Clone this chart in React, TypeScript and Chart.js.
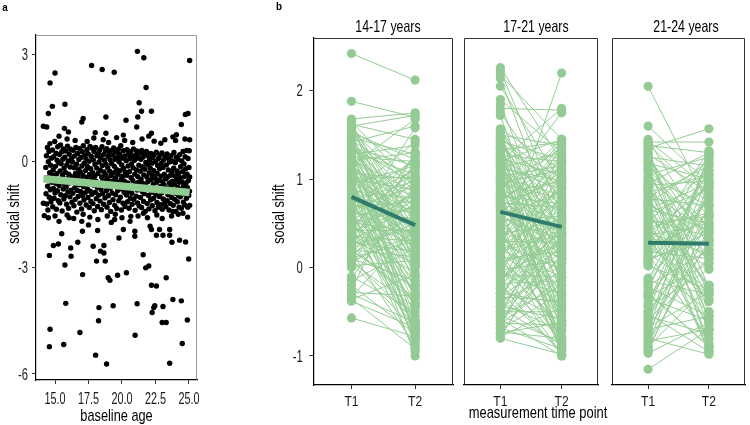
import React, { useEffect, useRef } from "react";
import { Chart, registerables } from "chart.js";

Chart.register(...registerables);

const FONT = "'Liberation Sans', Arimo, Arial, sans-serif";

// ---------- Panel a: baseline age vs social shift ----------
const scatterPoints: [number, number][] = [
  // upper outliers
  [14.63, 2.2], [15.0, 2.48], [14.8, 1.54], [14.5, 1.34], [15.74, 1.6], [17.73, 2.69], [18.52, 2.58], [19.42, 2.5],
  [21.15, 3.09], [21.63, 2.91], [25.05, 2.83], [21.8, 2.07], [21.28, 1.64], [21.18, 1.24], [21.46, 1.4], [22.2, 1.4],
  [21.1, 0.96], [20.3, 1.15], [17.1, 1.2], [17.0, 1.1], [18.8, 1.24], [24.73, 1.31], [24.93, 1.34], [24.43, 1.03],
  [24.06, 0.74], [23.8, 0.68], [22.2, 0.78], [18.0, 0.8], [18.8, 0.78], [20.1, 0.73], [14.13, 0.98], [14.38, 0.96],
  [15.7, 0.92], [16.0, 0.82],
  [15.3, 0.7], [15.9, 0.62], [16.5, 0.58], [17.4, 0.55], [17.9, 0.65], [18.6, 0.6], [19.0, 0.52], [19.6, 0.66],
  [20.2, 0.58], [20.8, 0.52], [21.5, 0.62], [22.0, 0.7], [22.4, 0.56], [22.9, 0.5], [23.2, 0.6], [24.0, 0.58],
  [24.7, 0.62], [25.05, 0.6],
  // lower outliers
  [14.58, -2.66], [14.88, -2.38], [15.25, -2.34], [15.5, -2.05], [15.74, -2.93], [16.17, -2.45], [16.2, -2.68],
  [16.7, -2.29], [17.06, -3.2], [17.05, -1.98], [17.85, -2.4], [18.1, -2.82], [18.4, -2.54], [18.65, -2.38],
  [18.18, -1.96], [18.65, -2.59], [18.75, -2.82], [18.97, -3.29], [19.1, -3.36], [19.67, -3.22], [20.33, -3.15],
  [19.77, -2.17], [20.96, -2.12], [20.96, -1.98], [21.58, -2.64], [21.77, -3.01], [22.0, -2.96], [22.2, -3.5],
  [22.57, -2.09], [23.06, -2.09], [23.56, -2.09], [23.73, -2.29], [24.3, -2.23], [24.75, -2.28], [24.98, -2.76],
  [23.3, -3.29], [15.8, -4.01], [18.28, -4.13], [18.25, -4.5], [19.34, -4.08], [21.13, -4.02], [22.37, -4.13],
  [22.25, -4.27], [22.45, -4.08], [23.06, -4.1], [23.0, -4.55], [23.3, -4.55], [23.8, -3.9], [24.43, -3.94],
  [24.88, -4.48], [24.5, -5.14], [20.98, -4.91], [16.86, -4.83], [14.63, -4.74], [14.58, -5.23], [15.65, -5.17],
  [18.03, -5.47], [18.85, -5.72], [23.56, -5.7], [22.57, -3.52],
  [14.2, -1.54], [14.13, -1.19], [15.3, -1.7], [16.05, -1.6], [17.0, -1.7], [17.5, -1.8], [19.2, -1.73],
  [19.45, -1.65], [20.1, -1.93], [20.66, -1.56], [22.1, -1.84], [22.2, -1.93], [22.8, -1.93], [23.56, -1.93],
  [25.05, -1.25], [23.8, -1.42], [24.55, -1.47], [21.6, -1.47],
  [14.5, -1.6], [15.0, -1.55], [15.9, -1.52], [16.4, -1.62], [17.1, -1.5], [17.6, -1.58], [18.2, -1.65],
  [18.9, -1.55], [19.5, -1.5], [20.0, -1.6], [20.6, -1.7], [21.2, -1.55], [21.9, -1.6], [22.6, -1.52],
  [23.0, -1.62], [23.7, -1.55], [24.2, -1.5], [24.9, -1.58],
  // dense core
  [14.31, -0.18], [14.33, -0.92], [14.36, 0.15], [14.38, -1.21], [14.4, -0.47], [14.43, 0.38], [14.45, -0.71], [14.47, -1.38],
  [14.5, -0.02], [14.52, -0.55], [14.55, 0.27], [14.57, -1.02], [14.6, -0.33], [14.62, 0.49], [14.65, -0.81], [14.67, -0.12],
  [14.7, -1.15], [14.72, 0.08], [14.75, -0.6], [14.78, -0.39],
  [14.81, 0.31], [14.83, -1.29], [14.86, -0.25], [14.88, -0.77], [14.9, 0.12], [14.93, -1.05], [14.95, -0.44], [14.98, 0.55],
  [15.0, -0.9], [15.03, -0.15], [15.05, -0.63], [15.08, 0.22], [15.1, -1.36], [15.13, -0.36], [15.15, 0.02], [15.18, -0.84],
  [15.2, 0.4], [15.23, -0.52], [15.25, -1.12], [15.28, -0.05],
  [15.31, -0.69], [15.33, 0.18], [15.36, -1.18], [15.38, -0.28], [15.41, 0.45], [15.43, -0.95], [15.46, -0.08], [15.48, -0.58],
  [15.51, 0.26], [15.53, -1.41], [15.56, -0.41], [15.58, 0.05], [15.61, -0.79], [15.63, 0.34], [15.66, -1.07], [15.68, -0.2],
  [15.71, -0.65], [15.73, 0.11], [15.76, -0.98], [15.78, -0.32],
  [15.81, 0.28], [15.83, -0.73], [15.86, -1.22], [15.88, -0.11], [15.91, -0.5], [15.93, 0.42], [15.96, -0.87], [15.98, 0.0],
  [16.01, -1.33], [16.03, -0.37], [16.06, 0.19], [16.08, -0.62], [16.11, -1.01], [16.13, -0.17], [16.16, 0.33], [16.18, -0.82],
  [16.21, -0.44], [16.23, 0.07], [16.26, -1.16], [16.28, -0.56],
  [16.31, -0.03], [16.33, -0.91], [16.36, 0.3], [16.38, -0.48], [16.41, -1.26], [16.43, -0.19], [16.46, 0.14], [16.48, -0.75],
  [16.51, -1.08], [16.53, -0.35], [16.56, 0.38], [16.58, -0.6], [16.61, -0.09], [16.63, -1.44], [16.66, -0.83], [16.68, 0.21],
  [16.71, -0.42], [16.73, -1.0], [16.76, -0.24], [16.78, 0.04],
  [16.81, -0.67], [16.83, 0.35], [16.86, -1.19], [16.88, -0.3], [16.91, -0.86], [16.93, 0.1], [16.96, -0.53], [16.98, -1.35],
  [17.01, -0.14], [17.03, 0.26], [17.06, -0.97], [17.08, -0.4], [17.11, 0.43], [17.13, -0.72], [17.16, -1.1], [17.18, -0.06],
  [17.21, -0.58], [17.23, 0.17], [17.26, -0.89], [17.28, -0.27],
  [17.31, 0.06], [17.33, -1.24], [17.36, -0.46], [17.38, 0.32], [17.41, -0.78], [17.43, -0.16], [17.46, -1.03], [17.48, 0.2],
  [17.51, -0.61], [17.53, -0.01], [17.56, -1.31], [17.58, -0.38], [17.61, 0.41], [17.63, -0.85], [17.66, -0.22], [17.68, -1.14],
  [17.71, 0.13], [17.73, -0.5], [17.76, -0.94], [17.78, 0.36],
  [17.81, -0.33], [17.83, -1.2], [17.86, 0.03], [17.88, -0.68], [17.91, 0.27], [17.93, -1.4], [17.96, -0.43], [17.98, -0.1],
  [18.01, -0.88], [18.03, 0.38], [18.06, -0.57], [18.08, -1.06], [18.11, -0.2], [18.13, 0.15], [18.16, -0.74], [18.18, -1.28],
  [18.21, -0.35], [18.23, 0.22], [18.26, -0.96], [18.28, -0.03],
  [18.31, -0.64], [18.33, 0.31], [18.36, -1.13], [18.38, -0.26], [18.41, 0.09], [18.43, -0.8], [18.46, -1.37], [18.48, -0.45],
  [18.51, 0.4], [18.53, -0.13], [18.56, -0.92], [18.58, -0.55], [18.61, 0.18], [18.63, -1.22], [18.66, -0.31], [18.68, 0.02],
  [18.71, -0.7], [18.73, -1.04], [18.76, 0.28], [18.78, -0.4],
  [18.81, -0.09], [18.83, -0.84], [18.86, 0.35], [18.88, -1.3], [18.91, -0.5], [18.93, -0.18], [18.96, 0.13], [18.98, -0.98],
  [19.01, -0.62], [19.03, 0.24], [19.06, -1.17], [19.08, -0.29], [19.11, 0.04], [19.13, -0.77], [19.16, -1.42], [19.18, -0.41],
  [19.21, 0.3], [19.23, -0.07], [19.26, -0.9], [19.28, -0.56],
  [19.31, 0.17], [19.33, -1.09], [19.36, -0.34], [19.38, 0.37], [19.41, -0.71], [19.43, -0.15], [19.46, -1.25], [19.48, 0.05],
  [19.51, -0.48], [19.53, -0.95], [19.56, 0.25], [19.58, -0.24], [19.61, -1.34], [19.63, -0.6], [19.66, 0.1], [19.68, -0.83],
  [19.71, -0.38], [19.73, 0.33], [19.76, -1.12], [19.78, -0.02],
  [19.81, -0.66], [19.83, 0.2], [19.86, -0.27], [19.88, -1.02], [19.91, 0.43], [19.93, -0.52], [19.96, -1.38], [19.98, -0.11],
  [20.01, -0.79], [20.03, 0.08], [20.06, -0.43], [20.08, -1.19], [20.11, 0.29], [20.13, -0.21], [20.16, -0.88], [20.18, -0.57],
  [20.21, 0.14], [20.23, -1.28], [20.26, -0.32], [20.28, -0.73],
  [20.31, 0.01], [20.33, -0.96], [20.36, -0.4], [20.38, 0.32], [20.41, -1.15], [20.43, -0.62], [20.46, -0.14], [20.48, 0.19],
  [20.51, -0.85], [20.53, -1.33], [20.56, -0.3], [20.58, 0.06], [20.61, -0.7], [20.63, -1.05], [20.66, 0.26], [20.68, -0.47],
  [20.71, -0.08], [20.73, -0.91], [20.76, -1.22], [20.78, 0.12],
  [20.81, -0.55], [20.83, -0.19], [20.86, 0.34], [20.88, -1.08], [20.91, -0.76], [20.93, 0.02], [20.96, -0.37], [20.98, -1.39],
  [21.01, 0.16], [21.03, -0.64], [21.06, -0.99], [21.08, -0.25], [21.11, 0.28], [21.13, -0.82], [21.16, -1.18], [21.18, -0.44],
  [21.21, 0.08], [21.23, -0.6], [21.26, -0.12], [21.28, -1.27],
  [21.31, 0.22], [21.33, -0.7], [21.36, -0.29], [21.38, -1.03], [21.41, 0.05], [21.43, -0.51], [21.46, -1.31], [21.48, 0.3],
  [21.51, -0.86], [21.53, -0.16], [21.56, -0.63], [21.58, 0.11], [21.61, -1.14], [21.63, -0.39], [21.66, -0.92], [21.68, 0.19],
  [21.71, -0.23], [21.73, -1.42], [21.76, -0.68], [21.78, -0.04],
  [21.81, -0.8], [21.83, 0.27], [21.86, -0.45], [21.88, -1.2], [21.91, -0.1], [21.93, -0.58], [21.96, 0.14], [21.98, -0.97],
  [22.01, -1.35], [22.03, -0.33], [22.06, 0.04], [22.08, -0.75], [22.11, -0.2], [22.13, -1.1], [22.16, 0.21], [22.18, -0.53],
  [22.21, -0.88], [22.23, -0.06], [22.26, -1.26], [22.28, -0.41],
  [22.31, 0.09], [22.33, -0.66], [22.36, -1.05], [22.38, -0.27], [22.41, 0.18], [22.43, -0.83], [22.46, -1.4], [22.48, -0.48],
  [22.51, -0.02], [22.53, -0.94], [22.56, 0.25], [22.58, -0.6], [22.61, -1.17], [22.63, -0.35], [22.66, -0.13], [22.68, -0.78],
  [22.71, -1.3], [22.73, 0.07], [22.76, -0.55], [22.78, -1.0],
  [22.81, -0.22], [22.83, 0.16], [22.86, -0.72], [22.88, -1.23], [22.91, -0.43], [22.93, -0.07], [22.96, -0.9], [22.98, 0.23],
  [23.01, -1.36], [23.03, -0.58], [23.06, -0.18], [23.08, -1.07], [23.11, 0.03], [23.13, -0.67], [23.16, -0.37], [23.18, -1.19],
  [23.21, 0.13], [23.23, -0.84], [23.26, -0.5], [23.28, -1.29],
  [23.31, -0.11], [23.33, -0.76], [23.36, 0.2], [23.38, -1.12], [23.41, -0.45], [23.43, -0.95], [23.46, -0.25], [23.48, 0.06],
  [23.51, -1.38], [23.53, -0.62], [23.56, -0.03], [23.58, -0.87], [23.61, -1.2], [23.63, -0.4], [23.66, 0.15], [23.68, -0.7],
  [23.71, -1.03], [23.73, -0.3], [23.76, -0.57], [23.78, 0.0],
  [23.81, -0.82], [23.83, -1.25], [23.86, -0.2], [23.88, 0.24], [23.91, -0.65], [23.93, -1.08], [23.96, -0.42], [23.98, -0.05],
  [24.01, -0.91], [24.03, -1.42], [24.06, 0.11], [24.08, -0.52], [24.11, -0.28], [24.13, -1.15], [24.16, -0.74], [24.18, 0.05],
  [24.21, -0.35], [24.23, -0.98], [24.26, -1.3], [24.28, -0.6],
  [24.31, 0.18], [24.33, -0.47], [24.36, -1.01], [24.38, -0.16], [24.41, -0.79], [24.43, -1.33], [24.46, 0.0], [24.48, -0.58],
  [24.51, -0.93], [24.53, -0.3], [24.56, 0.27], [24.58, -1.16], [24.61, -0.69], [24.63, -0.08], [24.66, -0.44], [24.68, -1.24],
  [24.71, 0.12], [24.73, -0.85], [24.76, -0.22], [24.78, -0.62],
  [24.81, -1.05], [24.83, 0.3], [24.86, -0.37], [24.88, -0.75], [24.91, -1.3], [24.93, 0.07], [24.96, -0.55], [24.98, -0.97],
  [25.0, -0.18], [25.02, 0.29], [25.04, -0.85], [25.05, -0.45],
];

const regressionAge = [14.13, 25.05];
const regressionShift = [-0.5, -0.89];
const ageTicks = [15, 17.5, 20, 22.5, 25];
const ageTickLabels = ["15.0", "17.5", "20.0", "22.5", "25.0"];
const shiftTicksA = [-6, -3, 0, 3];

// ---------- Panel b: T1 -> T2 per age group ----------
const facetLabels = ["14-17 years", "17-21 years", "21-24 years"];
const timeLabels = ["T1", "T2"];
const shiftTicksB = [-1, 0, 1, 2];

const pairs14to17: [number, number][] = [
  [2.42, 2.12], [1.88, 1.7], [1.68, 1.75], [1.65, 0.9], [1.62, 1.45], [1.58, 0.35], [1.55, 1.12], [1.52, -0.2],
  [1.5, 0.75], [1.47, 1.28], [1.45, 0.52], [1.42, 1.6], [1.4, 0.1], [1.37, 0.95], [1.35, -0.65], [1.32, 1.05],
  [1.3, 0.62], [1.27, 0.28], [1.25, 1.2], [1.22, 0.85], [1.2, -0.35], [1.17, 0.45], [1.15, 1.68], [1.12, 0.7],
  [1.1, 0.05], [1.07, 1.0], [1.05, 0.4], [1.02, -0.72], [1.0, 0.88], [0.97, 0.58], [0.95, 1.15], [0.92, 0.2],
  [0.9, -0.1], [0.87, 0.78], [0.85, 1.42], [0.82, 0.32], [0.8, 0.65], [0.77, -0.45], [0.75, 1.1], [0.72, 0.48],
  [0.7, 0.0], [0.67, 0.92], [0.65, -0.8], [0.62, 0.55], [0.6, 1.25], [0.57, 0.25], [0.55, 0.82], [0.52, -0.28],
  [0.5, 0.68], [0.47, 1.58], [0.45, 0.15], [0.42, 0.42], [0.4, -0.6], [0.37, 0.98], [0.35, 0.3], [0.32, -0.05],
  [0.3, 0.72], [0.27, 1.18], [0.25, -0.4], [0.22, 0.5], [0.2, 0.12], [0.17, -0.88], [0.15, 0.6], [0.12, 0.9],
  [0.1, -0.15], [0.07, 0.38], [0.05, -0.7], [0.02, 0.08], [0.0, 1.3], [-0.1, -0.5], [-0.15, 0.22], [-0.2, -0.75],
  [-0.28, -0.32], [-0.33, 0.45], [-0.35, -0.92], [-0.36, -0.08], [-0.38, -0.68], [-0.57, -0.78], [1.6, 1.72], [1.28, 1.38],
  [0.9, -1.0], [0.58, -0.95], [1.48, 0.2], [1.38, 0.68], [1.18, 0.18], [1.03, 0.6], [0.88, 0.02], [0.78, 0.35],
  [0.68, 0.75], [0.48, 1.02], [0.38, 0.85], [0.28, 0.18], [0.18, -0.22], [1.12, -0.55], [0.95, -0.85], [1.33, -0.78],
  [0.62, -0.68], [1.58, 0.58], [1.44, 0.98], [0.5, -0.4],
  [1.63, 0.42], [1.56, 0.85], [1.53, 1.22], [1.46, -0.1], [1.41, 0.3], [1.36, 1.15], [1.31, 0.02], [1.26, 0.55],
  [1.21, 1.3], [1.16, -0.25], [1.11, 0.8], [1.06, 0.25], [1.01, 1.02], [0.96, -0.3], [0.91, 0.5], [0.86, 0.12],
  [0.81, 1.2], [0.76, -0.62], [0.71, 0.62], [0.66, 0.28], [0.61, -0.15], [0.56, 1.08], [0.51, 0.4], [0.46, -0.72],
  [0.41, 0.7], [0.36, 0.05], [0.31, 1.28], [0.26, 0.45], [0.21, -0.35], [0.16, 0.92], [0.11, 0.3], [0.06, -0.45],
  [0.03, 0.65], [-0.12, 0.88], [-0.25, 1.2], [-0.3, -0.62], [1.5, -0.82], [1.2, -0.9], [0.98, -0.7], [0.75, 0.98],
  [0.55, -0.2], [0.33, 0.58], [1.42, 0.15], [1.07, -0.42], [0.84, -0.32], [0.44, 1.15], [0.24, 0.78], [0.09, -0.6],
  [1.6, 0.05], [1.24, 0.1],
];

const pairs17to21: [number, number][] = [
  [2.26, 1.2], [2.22, 0.6], [2.18, 1.45], [2.14, 0.3], [2.05, 0.95], [1.9, 1.3], [1.85, 0.1], [1.8, 1.78],
  [1.75, 0.75], [1.72, -0.2], [0.2, 2.2], [0.85, 1.75], [1.2, 1.8],
  [1.57, 1.1], [1.55, 0.42], [1.53, -0.3], [1.5, 1.38], [1.48, 0.8], [1.45, 0.05], [1.43, 1.22], [1.4, 0.55],
  [1.38, -0.65], [1.35, 0.95], [1.33, 1.42], [1.3, 0.2], [1.28, 0.7], [1.25, -0.12], [1.23, 1.05], [1.2, 0.35],
  [1.18, -0.85], [1.15, 0.88], [1.13, 1.3], [1.1, 0.48], [1.08, -0.4], [1.05, 0.62], [1.03, 1.15], [1.0, 0.1],
  [0.98, -0.95], [0.95, 0.78], [0.93, 0.3], [0.9, 1.35], [0.88, -0.2], [0.85, 0.5], [0.83, 0.98], [0.8, -0.6],
  [0.78, 0.25], [0.75, 1.25], [0.73, 0.68], [0.7, -0.05], [0.68, 0.4], [0.65, -0.78], [0.63, 1.08], [0.6, 0.15],
  [0.58, 0.85], [0.55, -0.35], [0.53, 0.58], [0.5, 1.4], [0.48, 0.0], [0.45, 0.72], [0.43, -0.9], [0.4, 0.45],
  [0.38, 1.18], [0.35, -0.25], [0.33, 0.9], [0.3, 0.28], [0.28, -0.55], [0.25, 0.65], [0.23, 1.02], [0.2, -0.1],
  [0.18, 0.38], [0.15, -0.7], [0.13, 0.8], [0.1, 0.18], [0.08, 1.28], [0.05, -0.42], [0.03, 0.52], [0.0, -0.98],
  [-0.03, 0.08], [-0.05, 0.92], [-0.08, -0.3], [-0.1, 0.3], [-0.13, -0.82], [-0.15, 0.6], [-0.18, -0.15], [-0.2, 1.12],
  [-0.23, -0.6], [-0.25, 0.22], [-0.28, -0.95], [-0.3, 0.45], [-0.33, -0.38], [-0.35, 0.75], [-0.38, -0.05], [-0.4, -0.72],
  [-0.43, 0.35], [-0.45, -0.88], [-0.48, 0.12], [-0.5, -0.5], [-0.53, 0.68], [-0.55, -0.2], [-0.58, -1.0], [-0.6, 0.05],
  [-0.63, -0.65], [-0.65, 0.5], [-0.68, -0.92], [-0.7, -0.28], [-0.73, -0.8], [-0.75, 0.15], [-0.78, -0.45], [-0.8, -0.98],
  [1.46, 1.0], [1.2, 1.45], [0.92, -0.48], [0.7, 1.42], [0.42, -0.62], [0.12, -0.85], [1.36, -0.92], [1.02, 0.82],
  [0.6, 1.32], [0.28, -0.02],
  [1.56, 0.6], [1.51, -0.6], [1.47, 0.25], [1.41, 0.9], [1.37, -0.15], [1.32, 0.45], [1.27, 1.2], [1.22, -0.45],
  [1.17, 0.15], [1.12, 0.98], [1.07, -0.7], [1.01, 0.4], [0.96, 1.1], [0.91, 0.05], [0.86, -0.88], [0.81, 0.72],
  [0.76, -0.3], [0.71, 1.0], [0.66, 0.2], [0.61, -0.52], [0.56, 0.32], [0.51, -0.95], [0.46, 1.25], [0.41, 0.1],
  [0.36, 0.55], [0.31, -0.8], [0.26, 1.38], [0.21, 0.42], [0.16, -0.32], [0.11, 0.95], [0.06, 0.25], [0.01, -0.65],
  [-0.04, 1.2], [-0.09, -0.1], [-0.14, 0.4], [-0.19, -0.98], [-0.24, 0.82], [-0.29, -0.4], [-0.34, 0.18], [-0.39, 1.05],
  [-0.44, -0.58], [-0.49, 0.55], [-0.54, -0.85], [-0.59, 0.28], [-0.64, -0.12], [-0.69, 0.88], [-0.74, -0.62], [-0.79, 0.38],
  [1.25, -1.0], [0.8, 1.45],
];

const pairs21to24: [number, number][] = [
  [2.05, 0.7], [1.6, 0.95], [1.35, 1.57], [1.42, 1.42], [1.45, 0.3], [1.38, 1.3], [1.32, -0.7], [1.28, 0.85],
  [1.25, 1.15], [1.2, 0.05], [1.15, 0.6], [1.1, -0.3], [1.05, 1.25], [1.0, 0.45], [0.97, -0.85], [0.93, 0.98],
  [0.9, 0.2], [0.85, 1.05], [0.82, -0.55], [0.78, 0.7], [0.75, 0.15], [0.72, 1.2], [0.68, -0.2], [0.65, 0.5],
  [0.62, 0.88], [0.58, -0.95], [0.55, 0.35], [0.52, 1.1], [0.48, -0.38], [0.45, 0.62], [0.42, 0.0], [0.38, 0.92],
  [0.35, -0.65], [0.32, 0.28], [0.28, 1.32], [0.25, -0.25], [0.22, 0.55], [0.18, 0.1], [0.15, -0.8], [0.12, 0.78],
  [0.08, 0.4], [0.05, -0.5], [0.02, 1.0], [-0.12, 0.65], [-0.15, -0.3], [-0.2, 0.2], [-0.25, 1.18], [-0.28, -0.9],
  [-0.32, 0.48], [-0.35, -0.6], [-0.4, 0.82], [-0.45, -0.02], [-0.5, 0.38], [-0.55, -0.75], [-0.6, 1.05], [-0.65, 0.12],
  [-0.7, -0.55], [-0.75, 0.7], [-0.8, -0.98], [-0.85, 0.3], [-0.9, -0.2], [-0.95, 0.58], [-0.97, -0.62], [-1.15, -0.7],
  [1.4, 0.72], [1.12, 0.32], [0.95, 1.3], [0.7, 0.42], [0.6, -0.2], [0.4, 0.15], [0.2, 0.95], [0.1, 1.28],
  [-0.18, 0.8], [-0.5, 1.22], [-0.62, 0.25], [-0.88, 0.9], [1.3, -0.22], [0.88, -0.35], [0.3, -0.38], [-0.3, -0.88],
  [-0.72, 1.3], [0.5, 0.58], [1.22, 0.45], [0.02, -0.25],
  [1.43, 0.9], [1.36, -0.6], [1.26, 0.25], [1.18, 1.0], [1.08, -0.9], [1.02, 0.7], [0.92, -0.25], [0.86, 0.4],
  [0.8, 1.15], [0.73, -0.7], [0.66, 0.95], [0.56, 0.1], [0.46, -0.88], [0.36, 0.5], [0.26, 1.05], [0.16, -0.3],
  [0.06, 0.75], [-0.13, 1.1], [-0.22, -0.55], [-0.33, 0.05], [-0.42, 1.25], [-0.52, -0.95], [-0.58, 0.6], [-0.68, -0.28],
  [-0.78, 0.95], [-0.83, -0.7], [-0.92, 0.45], [1.15, -0.5], [0.7, -0.95], [0.1, 0.3],
];

const facetPairs = [pairs14to17, pairs17to21, pairs21to24];
const meanT1 = [0.8, 0.63, 0.28];
const meanT2 = [0.48, 0.46, 0.27];

// ---------- helpers ----------
function drawText(ctx: any, text: string, x: number, y: number, o: { size: number; sx: number; align: string; rotate?: boolean; color?: string; bold?: boolean }) {
  ctx.save();
  ctx.translate(x, y);
  if (o.rotate) ctx.rotate(-Math.PI / 2);
  ctx.scale(o.sx, 1);
  ctx.font = `${o.bold ? "bold " : ""}${o.size}px ${FONT}`;
  ctx.fillStyle = o.color || "#1a1a1a";
  ctx.textAlign = o.align;
  ctx.textBaseline = "alphabetic";
  ctx.fillText(text, 0, 0);
  ctx.restore();
}

function framePlugin(sides: { top?: boolean; right?: boolean; left?: boolean; color: string }) {
  return {
    id: "frame",
    afterDraw(chart: any) {
      const { ctx, chartArea } = chart;
      const l = Math.round(chartArea.left) + 0.5;
      const r = Math.round(chartArea.right) - 0.5;
      const t = Math.round(chartArea.top) + 0.5;
      const b = Math.round(chartArea.bottom) - 0.5;
      ctx.save();
      ctx.strokeStyle = sides.color;
      ctx.lineWidth = 1;
      ctx.beginPath();
      if (sides.top) { ctx.moveTo(l, t); ctx.lineTo(r, t); }
      if (sides.right) { ctx.moveTo(r, t); ctx.lineTo(r, b); }
      if (sides.left) { ctx.moveTo(l, t); ctx.lineTo(l, b); }
      ctx.stroke();
      ctx.restore();
    },
  };
}

type AxisText = {
  xTicks?: { values: number[]; labels: string[]; baseline: number; size: number; sx: number };
  yTicks?: { values: number[]; labels: string[]; right: number; size: number; sx: number };
  xTitle?: { text: string; baseline: number; size: number; sx: number };
  yTitle?: { text: string; baselineX: number; centerY: number; size: number; sx: number };
};

function axisTextPlugin(cfg: AxisText) {
  return {
    id: "axisText",
    afterDraw(chart: any) {
      const { ctx, chartArea } = chart;
      const xs = chart.scales.x;
      const ys = chart.scales.y;
      if (cfg.xTicks) {
        const t = cfg.xTicks;
        t.values.forEach((v, i) => drawText(ctx, t.labels[i], xs.getPixelForValue(v), t.baseline, { size: t.size, sx: t.sx, align: "center" }));
      }
      if (cfg.yTicks) {
        const t = cfg.yTicks;
        t.values.forEach((v, i) =>
          drawText(ctx, t.labels[i], t.right, ys.getPixelForValue(v) + t.size * 0.36, { size: t.size, sx: t.sx, align: "right" })
        );
      }
      if (cfg.xTitle) {
        const t = cfg.xTitle;
        drawText(ctx, t.text, (chartArea.left + chartArea.right) / 2, t.baseline, { size: t.size, sx: t.sx, align: "center", color: "#000" });
      }
      if (cfg.yTitle) {
        const t = cfg.yTitle;
        drawText(ctx, t.text, t.baselineX, t.centerY, { size: t.size, sx: t.sx, align: "center", rotate: true, color: "#000" });
      }
    },
  };
}

const baseGrid = { drawOnChartArea: false, tickLength: 4, tickColor: "#333" };
const baseBorder = { color: "#000", width: 1.2 };

function buildScatterConfig(): any {
  return {
    type: "scatter",
    data: {
      datasets: [
        {
          data: regressionAge.map((a, i) => ({ x: a, y: regressionShift[i] })),
          showLine: true,
          borderColor: "#90cc90",
          borderWidth: 7.5,
          pointRadius: 0,
          order: 0,
        },
        {
          data: scatterPoints.map(([x, y]) => ({ x, y })),
          pointRadius: 2.7,
          backgroundColor: "#000",
          borderWidth: 0,
          order: 1,
        },
      ],
    },
    options: {
      responsive: false,
      animation: false,
      events: [],
      layout: { padding: { top: 35, right: 13, left: 0, bottom: 0 } },
      plugins: { legend: { display: false }, tooltip: { enabled: false } },
      scales: {
        x: {
          type: "linear",
          min: 13.58,
          max: 25.6,
          afterBuildTicks: (s: any) => { s.ticks = ageTicks.map((v) => ({ value: v })); },
          afterFit: (s: any) => { s.height = 45; },
          ticks: { display: false },
          grid: baseGrid,
          border: baseBorder,
        },
        y: {
          type: "linear",
          min: -6.17,
          max: 3.55,
          afterBuildTicks: (s: any) => { s.ticks = shiftTicksA.map((v) => ({ value: v })); },
          afterFit: (s: any) => { s.width = 36; },
          ticks: { display: false },
          grid: baseGrid,
          border: baseBorder,
        },
      },
    },
    plugins: [
      framePlugin({ top: true, right: true, color: "#9a9a9a" }),
      axisTextPlugin({
        xTicks: { values: ageTicks, labels: ageTickLabels, baseline: 403.5, size: 16, sx: 0.68 },
        yTicks: { values: shiftTicksA, labels: shiftTicksA.map(String), right: 28, size: 16, sx: 0.7 },
        xTitle: { text: "baseline age", baseline: 420.5, size: 17, sx: 0.75 },
        yTitle: { text: "social shift", baselineX: 18.8, centerY: 214, size: 17, sx: 0.75 },
      }),
    ],
  };
}

function buildFacetConfig(idx: number, withY: boolean, pad: { left: number; right: number }): any {
  const pairs = facetPairs[idx];
  const lineData: any[] = [];
  pairs.forEach(([a, b]) => {
    lineData.push({ x: 1, y: a }, { x: 2, y: b }, { x: 1.5, y: null });
  });
  const pointData: any[] = [];
  pairs.forEach(([a, b]) => {
    pointData.push({ x: 1, y: a }, { x: 2, y: b });
  });
  const text: AxisText = {
    xTicks: { values: [1, 2], labels: timeLabels, baseline: 405.5, size: 15.5, sx: 0.78 },
  };
  if (withY) {
    text.yTicks = { values: shiftTicksB, labels: shiftTicksB.map(String), right: 42.7, size: 16, sx: 0.7 };
    text.yTitle = { text: "social shift", baselineX: 23.6, centerY: 214, size: 17, sx: 0.75 };
  }
  return {
    type: "scatter",
    data: {
      datasets: [
        {
          data: [{ x: 1, y: meanT1[idx] }, { x: 2, y: meanT2[idx] }],
          showLine: true,
          borderColor: "#2f7b6c",
          borderWidth: 4,
          pointRadius: 0,
          order: 0,
        },
        {
          data: pointData,
          pointRadius: 4.6,
          backgroundColor: "rgb(148,202,148)",
          borderWidth: 0,
          order: 1,
        },
        {
          data: lineData,
          showLine: true,
          spanGaps: false,
          borderColor: "rgb(148,204,148)",
          borderWidth: 1,
          pointRadius: 0,
          order: 2,
        },
      ],
    },
    options: {
      responsive: false,
      animation: false,
      events: [],
      layout: { padding: { top: 38, right: pad.right, left: pad.left, bottom: 0 } },
      plugins: { legend: { display: false }, tooltip: { enabled: false } },
      scales: {
        x: {
          type: "linear",
          min: 0.4,
          max: 2.6,
          afterBuildTicks: (s: any) => { s.ticks = [1, 2].map((v) => ({ value: v })); },
          afterFit: (s: any) => { s.height = 40; },
          ticks: { display: false },
          grid: baseGrid,
          border: baseBorder,
        },
        y: withY
          ? {
              type: "linear",
              min: -1.328,
              max: 2.596,
              afterBuildTicks: (s: any) => { s.ticks = shiftTicksB.map((v) => ({ value: v })); },
              afterFit: (s: any) => { s.width = 53.3; },
              ticks: { display: false },
              grid: baseGrid,
              border: baseBorder,
            }
          : { type: "linear", display: false, min: -1.328, max: 2.596 },
      },
    },
    plugins: [framePlugin({ top: true, right: true, left: !withY, color: "#333" }), axisTextPlugin(text)],
  };
}

function ChartCanvas({ left, width, build }: { left: number; width: number; build: () => any }) {
  const ref = useRef<HTMLCanvasElement | null>(null);
  useEffect(() => {
    if (!ref.current) return;
    const chart = new Chart(ref.current, build());
    return () => chart.destroy();
  }, []);
  return (
    <canvas
      ref={ref}
      width={width}
      height={425}
      style={{ position: "absolute", left, top: 0, width, height: 425 }}
    />
  );
}

function Label({ text, center, baseline, size, sx, bold }: any) {
  // line-height = size; baseline sits ~0.8465em below the box top for Liberation Sans
  const top = baseline - 0.8465 * size;
  return (
    <div
      style={{
        position: "absolute",
        left: center - 100,
        top,
        width: 200,
        fontFamily: FONT,
        fontSize: size,
        lineHeight: `${size}px`,
        fontWeight: bold ? "bold" : "normal",
        textAlign: "center",
        color: "#000",
        whiteSpace: "nowrap",
        transform: `scaleX(${sx})`,
        transformOrigin: "50% 50%",
      }}
    >
      {text}
    </div>
  );
}

const facetTitleCenters = [387.5, 535.6, 686];

export default function App() {
  return (
    <div style={{ position: "absolute", left: 0, top: 0, width: 750, height: 425, background: "#fff", overflow: "hidden" }}>
      <ChartCanvas left={0} width={210} build={buildScatterConfig} />
      <ChartCanvas left={260} width={200} build={() => buildFacetConfig(0, true, { left: 0, right: 6.7 })} />
      <ChartCanvas left={459} width={144} build={() => buildFacetConfig(1, false, { left: 2, right: 2 })} />
      <ChartCanvas left={607} width={143} build={() => buildFacetConfig(2, false, { left: 2, right: 1 })} />
      <Label text="a" center={4.5} baseline={11} size={11} sx={0.9} bold />
      <Label text="b" center={279} baseline={10.7} size={11} sx={0.9} bold />
      {facetLabels.map((t, i) => (
        <Label key={t} text={t} center={facetTitleCenters[i]} baseline={31.7} size={16.5} sx={0.75} />
      ))}
      <Label text="measurement time point" center={537.5} baseline={418.5} size={17} sx={0.76} />
    </div>
  );
}
